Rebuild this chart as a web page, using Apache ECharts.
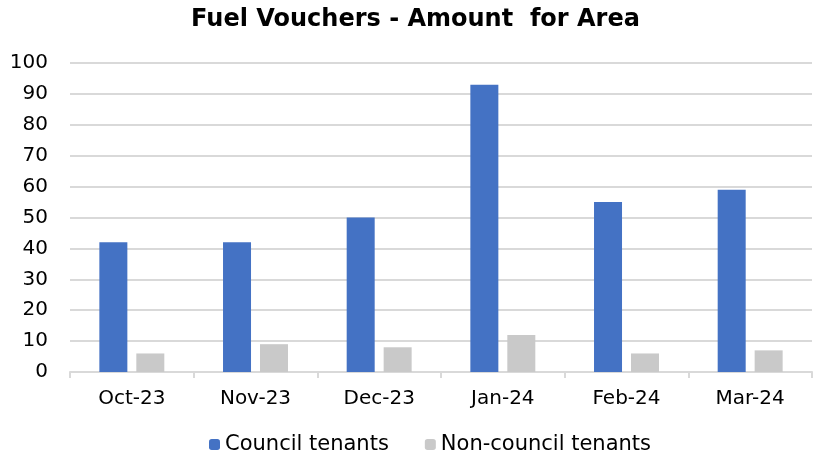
<!DOCTYPE html>
<html>
<head>
    <meta charset="UTF-8">
    <script src="https://cdn.jsdelivr.net/npm/echarts@6/dist/echarts.min.js"></script>
    <style>
        html, body { margin: 0; padding: 0; background: #fff; }
    </style>
</head>
<body>
<div id="main" style="width: 831px;height:461px;"></div>
<script>
    // data
    var months = ['Oct-23', 'Nov-23', 'Dec-23', 'Jan-24', 'Feb-24', 'Mar-24'];
    var council = [42, 42, 50, 93, 55, 59];
    var nonCouncil = [6, 9, 8, 12, 6, 7];
    var yTicks = [0, 10, 20, 30, 40, 50, 60, 70, 80, 90, 100];

    var font = '"DejaVu Sans", sans-serif';
    var myChart = echarts.init(document.getElementById('main'));

    var option = {
        animation: false,
        title: {
            text: 'Fuel Vouchers - Amount  for Area',
            left: 'center',
            top: 3,
            textStyle: { fontFamily: font, fontSize: 24, fontWeight: 'bold', color: '#000' }
        },
        legend: {
            left: 204,
            bottom: 1,
            itemWidth: 11,
            itemHeight: 11,
            itemGap: 36,
            textStyle: { fontFamily: font, fontSize: 21, color: '#000' },
            data: ['Council tenants', 'Non-council tenants']
        },
        grid: { left: 70, right: 19, top: 63, bottom: 89, containLabel: false },
        xAxis: {
            type: 'category',
            data: months,
            axisLine: { lineStyle: { color: '#d9d9d9', width: 2 } },
            axisTick: { show: true, length: 6, lineStyle: { color: '#d9d9d9', width: 2 } },
            axisLabel: { fontFamily: font, fontSize: 20, color: '#000', margin: 17 }
        },
        yAxis: {
            type: 'value',
            min: yTicks[0],
            max: yTicks[yTicks.length - 1],
            interval: 10,
            axisLine: { show: false },
            axisTick: { show: false },
            splitLine: { lineStyle: { color: '#d9d9d9', width: 2 } },
            axisLabel: { fontFamily: font, fontSize: 20, color: '#000', margin: 22 }
        },
        series: [
            {
                name: 'Council tenants',
                type: 'bar',
                data: council,
                barWidth: 28,
                barGap: '32%',
                itemStyle: { color: '#4472c4' }
            },
            {
                name: 'Non-council tenants',
                type: 'bar',
                data: nonCouncil,
                barWidth: 28,
                itemStyle: { color: '#c9c9c9' }
            }
        ]
    };
    myChart.setOption(option);
</script>
</body>
</html>
